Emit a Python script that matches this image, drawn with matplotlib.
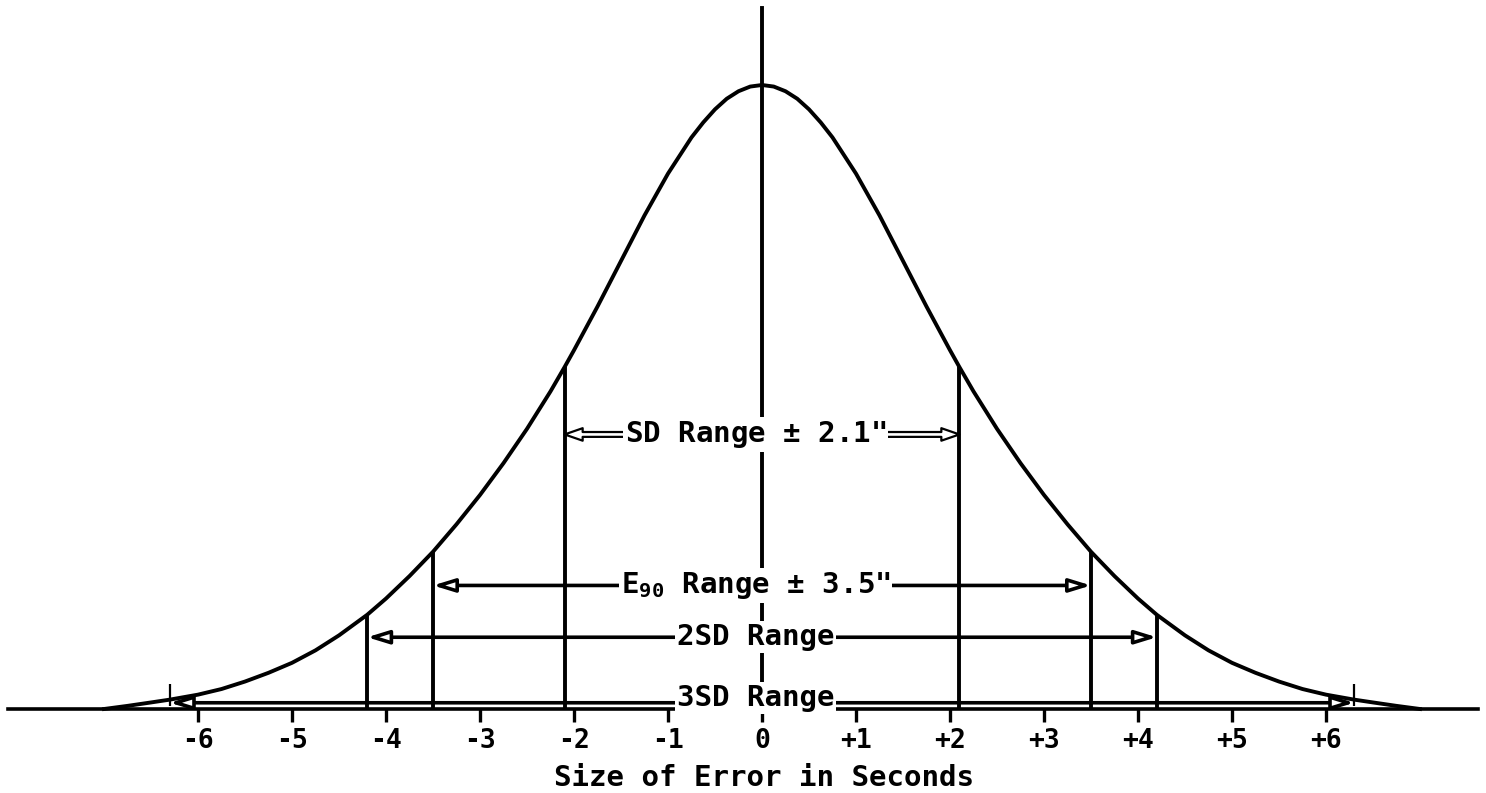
import numpy as np
import matplotlib.pyplot as plt

# error curve, right half; heights in percent of the peak (curve is symmetric)
half_x = [0.0, 0.125, 0.25, 0.375, 0.5, 0.625, 0.75, 1.0, 1.25, 1.5, 1.75, 2.0, 2.1, 2.25, 2.5,
          2.75, 3.0, 3.25, 3.5, 3.75, 4.0, 4.2, 4.5, 4.75, 5.0, 5.25, 5.5, 5.75, 6.0, 6.3,
          6.5, 6.75, 7.0]
half_y = [100.0, 99.75, 99.0, 97.8, 96.1, 94.0, 91.6, 85.8, 79.1, 71.8, 64.5, 57.5, 54.8, 50.9,
          44.9, 39.4, 34.3, 29.6, 25.2, 21.3, 17.7, 15.1, 11.8, 9.4, 7.4, 5.8, 4.4, 3.2, 2.3,
          1.5, 1.05, 0.5, 0.0]

# ranges marked under the curve (seconds)
range_names = ['SD Range $\\pm$ 2.1"', 'E$_{90}$ Range $\\pm$ 3.5"', '2SD Range', '3SD Range']
range_half = [2.1, 3.5, 4.2, 6.3]
range_level = [44.0, 19.8, 11.5, 1.0]

ticks = [-6, -5, -4, -3, -2, -1, 0, 1, 2, 3, 4, 5, 6]
tick_labels = ['-6', '-5', '-4', '-3', '-2', '-1', '0', '+1', '+2', '+3', '+4', '+5', '+6']

plt.rcParams['font.family'] = 'DejaVu Sans Mono'
plt.rcParams['font.weight'] = 'bold'
plt.rcParams['mathtext.fontset'] = 'custom'
plt.rcParams['mathtext.rm'] = 'DejaVu Sans Mono:bold'
plt.rcParams['mathtext.it'] = 'DejaVu Sans Mono:bold'
plt.rcParams['mathtext.bf'] = 'DejaVu Sans Mono:bold'

curve_x = [-v for v in half_x[:0:-1]] + half_x
curve_y = half_y[:0:-1] + half_y

fig = plt.figure(figsize=(14.86, 7.93), dpi=100)
ax = fig.add_axes([0, 0, 1, 1])
ax.set_xlim(-762 / 94, (1486 - 762) / 94)
ax.set_ylim(-(793 - 709) / 6.24, 709 / 6.24)

lw = 2.8
ax.plot(curve_x, curve_y, color='black', lw=lw, solid_joinstyle='round', zorder=3)

# center line runs above the peak
ax.plot([0, 0], [0, 112.3], color='black', lw=lw, zorder=2)

for i, (half, level) in enumerate(zip(range_half, range_level)):
    top = np.interp(half, curve_x, curve_y)
    if half < 6:
        ax.vlines([-half, half], 0, top, color='black', lw=lw, zorder=2)
    else:
        ax.vlines([-half, half], top - 1, top + 2.5, color='black', lw=1.6, zorder=2)
    if i == 0:
        style = 'simple,head_length=1.3,head_width=0.9,tail_width=0.35'
        width = 1.6
    else:
        style = '-|>,head_length=1.3,head_width=0.4'
        width = 2.6
    for side in (-1, 1):
        ax.annotate('', xy=(side * half, level), xytext=(0, level),
                    arrowprops=dict(arrowstyle=style, facecolor='white', edgecolor='black',
                                    lw=width, shrinkA=0, shrinkB=0), zorder=2)

for name, level, half in zip(range_names, range_level, range_half):
    dy = 0.8 if half > 6 else 0.0
    ax.text(-0.07, level + dy, name, ha='center', va='center', fontsize=21, fontweight='bold',
            bbox=dict(facecolor='white', edgecolor='none', pad=1.5), zorder=4)

# axis line with ticks
for s in ['top', 'right', 'left']:
    ax.spines[s].set_visible(False)
ax.spines['bottom'].set_position(('data', 0))
ax.spines['bottom'].set_bounds(-8.02, 7.62)
ax.spines['bottom'].set_linewidth(2.6)
ax.set_yticks([])
ax.set_xticks(ticks)
ax.set_xticklabels(tick_labels, fontsize=19, fontweight='bold')
ax.tick_params(axis='x', direction='out', length=9, width=2.4, pad=5)
ax.text(0.02, -11.0, 'Size of Error in Seconds', ha='center', va='center',
        fontsize=21, fontweight='bold')

fig.savefig('out.png', dpi=100)
